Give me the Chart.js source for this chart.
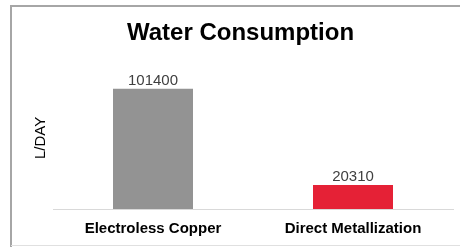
<!DOCTYPE html>
<html>
<head>
<meta charset="utf-8">
<script src="https://cdn.jsdelivr.net/npm/chart.js@4"></script>
<style>
  html, body { margin: 0; padding: 0; background: #fff; }
  #wrap { width: 460px; height: 247px; }
</style>
</head>
<body>
<div id="wrap"><canvas id="myChart"></canvas></div>
<script>
const categories = ['Electroless Copper', 'Direct Metallization'];
const waterUse = [101400, 20310];
const barColors = ['#939393', '#e52136'];

// frame lines round the chart, like the original slide box
const frame = {
  id: 'frame',
  beforeDraw(chart) {
    const c = chart.ctx;
    c.save();
    c.fillStyle = '#ffffff';
    c.fillRect(0, 0, chart.width, chart.height);
    c.strokeStyle = '#a6a6a6';
    c.lineWidth = 2;
    c.beginPath();
    c.moveTo(11, chart.height);
    c.lineTo(11, 6);
    c.lineTo(chart.width, 6);
    c.stroke();
    c.strokeStyle = '#e0e0e0';
    c.lineWidth = 1;
    c.beginPath();
    c.moveTo(11, chart.height - 1.5);
    c.lineTo(chart.width, chart.height - 1.5);
    c.stroke();
    c.restore();
  }
};

// value labels above the bars
const valueLabels = {
  id: 'valueLabels',
  afterDatasetsDraw(chart) {
    const c = chart.ctx;
    const meta = chart.getDatasetMeta(0);
    c.save();
    c.font = '15px "Liberation Sans", Arial, sans-serif';
    c.fillStyle = '#404040';
    c.textAlign = 'center';
    c.textBaseline = 'alphabetic';
    meta.data.forEach((bar, i) => {
      c.fillText(String(chart.data.datasets[0].data[i]), bar.x, bar.y - 4);
    });
    c.restore();
  }
};

new Chart(document.getElementById('myChart'), {
  type: 'bar',
  data: {
    labels: categories,
    datasets: [{
      label: 'L/DAY',
      data: waterUse,
      backgroundColor: barColors,
      borderWidth: 0,
      barPercentage: 0.5,
      categoryPercentage: 0.8
    }]
  },
  options: {
    responsive: true,
    maintainAspectRatio: false,
    animation: false,
    layout: { padding: { top: 8, left: 28, right: 7, bottom: 0 } },
    plugins: {
      legend: { display: false },
      tooltip: { enabled: false },
      title: {
        display: true,
        text: 'Water Consumption',
        color: '#000000',
        font: { family: '"Liberation Sans", Arial, sans-serif', size: 24, weight: 'bold' },
        padding: { top: 11, bottom: 19 }
      }
    },
    scales: {
      x: {
        afterFit(scale) { scale.height = 38; },
        grid: { display: false },
        border: { display: true, color: '#d9d9d9', width: 1 },
        ticks: {
          color: '#000000',
          padding: 3,
          font: { family: '"Liberation Sans", Arial, sans-serif', size: 15, weight: 'bold' }
        }
      },
      y: {
        afterFit(scale) { scale.width = 25; },
        min: 0,
        max: 120000,
        grid: { display: false },
        border: { display: false },
        ticks: { display: false },
        title: {
          display: true,
          text: 'L/DAY',
          color: '#000000',
          padding: { top: 4, bottom: 2 },
          font: { family: '"Liberation Sans", Arial, sans-serif', size: 15 }
        }
      }
    }
  },
  plugins: [frame, valueLabels]
});
</script>
</body>
</html>
